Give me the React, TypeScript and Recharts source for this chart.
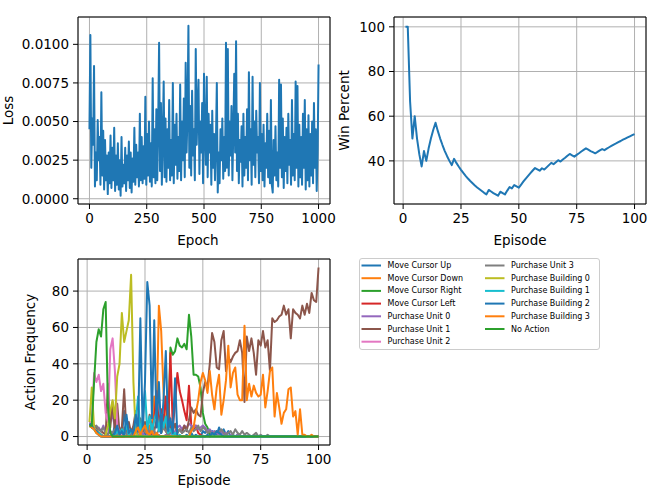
import React from 'react';
import { LineChart, Line, XAxis, YAxis, CartesianGrid, ReferenceArea, Legend } from 'recharts';

const FONT = "'DejaVu Sans', sans-serif";
const FS = 13.5;

// ---- Loss (in units of 1e-4), one reading every 4 epochs, epoch 0..1000 ----
const lossE4 = [
  45, 106, 20, 52, 35, 86, 8, 30, 12, 51,
  25, 40, 9, 69, 15, 44, 6, 38, 12, 28,
  3, 30, 10, 41, 7, 33, 12, 46, 5, 28,
  9, 36, 6, 25, 2, 40, 8, 22, 10, 33,
  5, 28, 12, 37, 7, 30, 4, 26, 11, 46,
  9, 35, 14, 30, 8, 55, 12, 40, 10, 34,
  13, 66, 9, 42, 15, 50, 11, 36, 8, 78,
  14, 45, 10, 58, 12, 48, 101, 18, 62, 9,
  40, 76, 14, 52, 11, 45, 20, 64, 12, 38,
  15, 75, 10, 48, 22, 55, 13, 40, 18, 74,
  12, 50, 25, 65, 14, 88, 30, 55, 112, 20,
  60, 15, 70, 28, 45, 12, 97, 35, 58, 77,
  16, 50, 30, 62, 10, 81, 40, 22, 79, 14,
  55, 30, 48, 9, 57, 20, 42, 12, 36, 75,
  4, 30, 10, 45, 25, 52, 13, 40, 18, 101,
  20, 97, 15, 50, 28, 60, 12, 44, 81, 30,
  102, 18, 55, 10, 38, 24, 47, 8, 55, 15,
  40, 20, 58, 12, 82, 25, 45, 9, 79, 22,
  50, 14, 57, 30, 40, 10, 75, 18, 42, 12,
  48, 8, 36, 20, 55, 14, 44, 10, 64, 9,
  4, 38, 15, 47, 12, 30, 8, 77, 20, 74,
  14, 52, 7, 40, 18, 46, 10, 55, 22, 38,
  9, 64, 15, 42, 12, 76, 20, 73, 8, 48,
  14, 40, 9, 55, 20, 64, 6, 45, 12, 54,
  8, 42, 15, 50, 10, 62, 20, 45, 5, 30,
  87,
];
const lossTicksX = [0, 250, 500, 750, 1000];
const lossTicksY = [0, 0.0025, 0.005, 0.0075, 0.01];

// ---- Win percent, episodes 1..100 ----
const winPercent = [
  100, 100, 66.7, 50, 60, 50, 42.9, 37.5, 44.4, 40,
  45.5, 50, 53.8, 57.1, 53.3, 50, 47.1, 44.4, 42.1, 40,
  38.1, 40.9, 39.1, 37.5, 36, 34.6, 33.3, 32.1, 31, 30,
  29, 28.1, 27.3, 26.5, 25.7, 25, 27, 26.3, 25.6, 25,
  24.4, 26.2, 25.6, 25, 26.7, 28.3, 27.7, 29.2, 28.6, 28,
  29.4, 30.8, 32.1, 33.3, 34.5, 35.7, 36.8, 36.2, 35.6, 36.7,
  36.1, 37.1, 38.1, 39.1, 38.5, 39.4, 40.3, 39.7, 40.6, 41.4,
  42.3, 43.1, 42.5, 41.9, 42.7, 43.4, 44.2, 44.9, 45.6, 45,
  44.4, 43.9, 43.4, 44, 44.7, 45.3, 44.8, 45.5, 46.1, 46.7,
  47.3, 47.8, 48.4, 48.9, 49.5, 50, 50.5, 51, 51.5, 52,
];
const episodeTicks = [0, 25, 50, 75, 100];
const winTicksY = [40, 60, 80, 100];

// ---- Action frequency, episodes 1..100 ----
const actionNames = [
  'Move Cursor Up', 'Move Cursor Down', 'Move Cursor Right', 'Move Cursor Left',
  'Purchase Unit 0', 'Purchase Unit 1', 'Purchase Unit 2', 'Purchase Unit 3',
  'Purchase Building 0', 'Purchase Building 1', 'Purchase Building 2', 'Purchase Building 3',
  'No Action',
];
const actionColors = [
  '#1f77b4', '#ff7f0e', '#2ca02c', '#d62728', '#9467bd', '#8c564b', '#e377c2',
  '#7f7f7f', '#bcbd22', '#17becf', '#1f77b4', '#ff7f0e', '#2ca02c',
];

const moveCursorUp = [
  6, 7, 6, 4, 2, 1, 0, 0, 0, 0,
  0, 7, 2, 5, 0, 14, 3, 0, 1, 0,
  3, 0, 1, 0, 2, 0, 0, 1, 0, 0,
  0, 0, 0, 0, 0, 0, 0, 0, 0, 0,
  0, 0, 1, 0, 2, 0, 1, 0, 0, 3,
  2, 4, 1, 3, 2, 1, 5, 2, 4, 1,
  3, 0, 1, 0, 1, 0, 0, 0, 0, 0,
  0, 0, 0, 0, 0, 0, 0, 0, 0, 0,
  0, 0, 0, 0, 0, 0, 0, 0, 0, 0,
  0, 0, 0, 0, 0, 0, 0, 0, 0, 0,
];
const moveCursorDown = [
  7, 6, 5, 4, 2, 1, 0, 0, 0, 0,
  0, 0, 0, 0, 0, 0, 0, 0, 0, 0,
  5, 3, 7, 2, 4, 1, 6, 3, 22, 10,
  72, 58, 25, 3, 1, 0, 0, 0, 0, 0,
  0, 0, 0, 0, 0, 0, 0, 0, 0, 0,
  0, 0, 0, 0, 0, 0, 0, 0, 0, 0,
  0, 0, 0, 0, 0, 0, 0, 0, 0, 0,
  0, 0, 0, 0, 0, 0, 0, 0, 0, 0,
  0, 0, 0, 0, 0, 0, 0, 0, 0, 0,
  0, 0, 0, 0, 0, 0, 0, 0, 0, 0,
];
const moveCursorRight = [
  6, 5, 4, 2, 1, 0, 0, 0, 0, 0,
  0, 0, 0, 0, 0, 0, 0, 0, 0, 0,
  0, 0, 0, 0, 0, 0, 0, 0, 0, 0,
  0, 0, 0, 0, 3, 49, 45, 47, 54, 50,
  49, 51, 48, 67, 55, 34, 34, 33, 27, 13,
  7, 5, 1, 0, 0, 0, 0, 0, 0, 0,
  0, 0, 0, 0, 0, 0, 0, 0, 0, 0,
  0, 0, 0, 0, 0, 0, 0, 0, 0, 0,
  0, 0, 0, 0, 0, 0, 0, 0, 0, 0,
  0, 0, 0, 0, 0, 0, 0, 0, 0, 0,
];
const moveCursorLeft = [
  6, 5, 5, 3, 2, 1, 0, 0, 0, 0,
  0, 0, 0, 0, 0, 0, 0, 0, 0, 0,
  0, 0, 0, 0, 0, 0, 0, 3, 10, 25,
  6, 15, 8, 22, 3, 46, 5, 18, 35, 25,
  20, 14, 9, 28, 6, 4, 6, 2, 1, 0,
  0, 0, 0, 0, 0, 0, 0, 0, 0, 0,
  0, 0, 0, 0, 0, 0, 0, 0, 0, 0,
  0, 0, 0, 0, 0, 0, 0, 0, 0, 0,
  0, 0, 0, 0, 0, 0, 0, 0, 0, 0,
  0, 0, 0, 0, 0, 0, 0, 0, 0, 0,
];
const purchaseUnit0 = [
  8, 7, 5, 4, 5, 3, 6, 2, 1, 8,
  12, 5, 1, 0, 1, 0, 0, 0, 1, 0,
  0, 1, 0, 2, 0, 1, 0, 0, 2, 0,
  1, 0, 0, 1, 0, 2, 1, 3, 5, 6,
  4, 6, 5, 7, 6, 5, 6, 4, 5, 6,
  5, 3, 4, 2, 3, 2, 1, 3, 1, 2,
  0, 1, 0, 0, 1, 0, 0, 0, 0, 0,
  0, 0, 0, 0, 0, 0, 0, 0, 0, 0,
  0, 0, 0, 0, 0, 0, 0, 0, 0, 0,
  0, 0, 0, 0, 0, 0, 0, 0, 0, 0,
];
const purchaseUnit1 = [
  6, 5, 6, 5, 4, 3, 2, 1, 29, 5,
  19, 3, 18, 2, 5, 26, 3, 8, 2, 6,
  14, 4, 10, 3, 8, 2, 12, 5, 3, 9,
  4, 2, 6, 3, 18, 5, 3, 7, 2, 4,
  2, 6, 3, 9, 16, 13, 15, 12, 11, 24,
  30, 27, 40, 57, 52, 38, 37, 53, 58, 36,
  44, 41, 44, 46, 47, 53, 46, 19, 55, 47,
  54, 46, 34, 53, 50, 58, 49, 53, 36, 65,
  63, 64, 66, 67, 72, 67, 70, 54, 70, 68,
  67, 65, 72, 67, 73, 68, 79, 75, 74, 93,
];
const purchaseUnit2 = [
  7, 8, 35, 30, 34, 25, 29, 13, 8, 48,
  54, 36, 6, 2, 1, 0, 0, 0, 0, 0,
  0, 0, 0, 0, 0, 0, 0, 0, 0, 0,
  0, 0, 0, 0, 0, 0, 0, 0, 0, 0,
  0, 0, 0, 0, 0, 0, 0, 0, 0, 0,
  0, 0, 0, 0, 0, 0, 0, 0, 0, 0,
  0, 0, 0, 0, 0, 0, 0, 0, 0, 0,
  0, 0, 0, 0, 0, 0, 0, 0, 0, 0,
  0, 0, 0, 0, 0, 0, 0, 0, 0, 0,
  0, 0, 0, 0, 0, 0, 0, 0, 0, 0,
];
const purchaseUnit3 = [
  7, 6, 5, 6, 4, 3, 5, 2, 1, 3,
  2, 4, 1, 3, 2, 5, 1, 2, 0, 3,
  6, 2, 4, 8, 3, 5, 2, 7, 3, 1,
  4, 2, 5, 3, 1, 2, 3, 1, 2, 4,
  2, 3, 4, 2, 5, 3, 4, 6, 3, 5,
  4, 2, 3, 1, 2, 3, 2, 4, 2, 1,
  2, 3, 1, 4, 2, 1, 3, 1, 2, 1,
  0, 1, 2, 0, 1, 0, 0, 1, 0, 0,
  0, 0, 0, 0, 0, 0, 0, 0, 0, 0,
  0, 0, 0, 0, 0, 0, 0, 0, 0, 0,
];
const purchaseBuilding0 = [
  8, 27, 5, 3, 2, 1, 0, 1, 6, 14,
  20, 10, 33, 40, 68, 52, 58, 64, 89, 30,
  2, 0, 1, 0, 0, 0, 0, 0, 0, 0,
  0, 0, 0, 0, 0, 0, 0, 0, 0, 0,
  0, 0, 0, 0, 0, 0, 0, 0, 0, 0,
  0, 0, 0, 0, 0, 0, 0, 0, 0, 0,
  0, 0, 0, 0, 0, 0, 0, 0, 0, 0,
  0, 0, 0, 0, 0, 0, 0, 0, 0, 0,
  0, 0, 0, 0, 0, 0, 0, 0, 0, 0,
  0, 0, 0, 0, 0, 0, 0, 0, 0, 0,
];
const purchaseBuilding1 = [
  6, 5, 4, 3, 2, 1, 0, 0, 0, 0,
  0, 1, 3, 1, 4, 2, 6, 1, 3, 2,
  8, 22, 2, 10, 25, 4, 11, 3, 9, 14,
  3, 12, 5, 11, 2, 4, 1, 2, 0, 1,
  0, 0, 0, 0, 0, 0, 0, 0, 0, 0,
  0, 0, 0, 0, 0, 0, 0, 0, 0, 0,
  0, 0, 0, 0, 0, 0, 0, 0, 0, 0,
  0, 0, 0, 0, 0, 0, 0, 0, 0, 0,
  0, 0, 0, 0, 0, 0, 0, 0, 0, 0,
  0, 0, 0, 0, 0, 0, 0, 0, 0, 0,
];
const purchaseBuilding2 = [
  7, 6, 4, 3, 1, 0, 0, 0, 0, 0,
  0, 2, 6, 1, 3, 0, 12, 2, 4, 1,
  12, 3, 65, 3, 30, 85, 72, 10, 64, 5,
  30, 2, 20, 47, 3, 10, 2, 32, 0, 0,
  0, 0, 0, 0, 0, 0, 0, 0, 0, 0,
  0, 1, 0, 2, 1, 3, 2, 1, 0, 0,
  0, 0, 0, 0, 0, 0, 0, 0, 0, 0,
  0, 0, 0, 0, 0, 0, 0, 0, 0, 0,
  0, 0, 0, 0, 0, 0, 0, 0, 0, 0,
  0, 0, 0, 0, 0, 0, 0, 0, 0, 0,
];
const purchaseBuilding3 = [
  6, 5, 4, 2, 1, 0, 0, 0, 0, 0,
  0, 0, 0, 0, 0, 0, 0, 0, 0, 0,
  3, 5, 1, 4, 6, 2, 1, 3, 0, 2,
  0, 0, 0, 0, 0, 0, 0, 0, 0, 0,
  0, 0, 0, 0, 3, 5, 13, 20, 30, 35,
  31, 24, 36, 23, 15, 27, 34, 12, 20, 31,
  50, 27, 35, 38, 23, 20, 20, 61, 20, 29,
  22, 28, 24, 22, 23, 34, 16, 25, 36, 38,
  11, 24, 16, 7, 13, 15, 26, 27, 11, 14,
  1, 15, 1, 1, 0, 0, 1, 0, 0, 0,
];
const noAction = [
  6, 6, 30, 52, 59, 55, 70, 74, 16, 2,
  0, 0, 0, 0, 0, 0, 0, 0, 0, 0,
  0, 0, 0, 0, 0, 0, 0, 0, 0, 0,
  0, 0, 0, 0, 0, 0, 0, 0, 0, 0,
  0, 0, 0, 0, 0, 0, 0, 0, 0, 0,
  0, 0, 0, 0, 0, 0, 0, 0, 0, 0,
  0, 0, 0, 0, 0, 0, 0, 0, 0, 0,
  0, 0, 0, 0, 0, 0, 0, 0, 0, 0,
  0, 0, 0, 0, 0, 0, 0, 0, 0, 0,
  0, 0, 0, 0, 0, 0, 0, 0, 0, 0,
];
const actionSeries = [
  moveCursorUp, moveCursorDown, moveCursorRight, moveCursorLeft,
  purchaseUnit0, purchaseUnit1, purchaseUnit2, purchaseUnit3,
  purchaseBuilding0, purchaseBuilding1, purchaseBuilding2, purchaseBuilding3,
  noAction,
];
const freqTicksY = [0, 20, 40, 60, 80];

// ---- tables built from the arrays ----
const lossData = lossE4.map((v, i) => ({ epoch: i * 4, loss: v / 10000 }));
const winData = winPercent.map((v, i) => ({ episode: i + 1, win: v }));
const actionData = moveCursorUp.map((_, i) => {
  const row: Record<string, number> = { episode: i + 1 };
  actionSeries.forEach((s, k) => { row['a' + k] = s[i]; });
  return row;
});

const tickStyle = { fill: '#000', fontSize: FS, fontFamily: FONT };
const GRID = '#b0b0b0';

const yTitle = (text: string, x: number, cy: number) => () => (
  <text x={x} y={cy} transform={`rotate(-90, ${x}, ${cy})`} textAnchor="middle"
    dominantBaseline="central" fontSize={FS} fontFamily={FONT} fill="#000">{text}</text>
);
const xTitle = (text: string, cx: number, y: number) => () => (
  <text x={cx} y={y} textAnchor="middle" dominantBaseline="central"
    fontSize={FS} fontFamily={FONT} fill="#000">{text}</text>
);

const renderLegend = () => (
  <svg width={244} height={95} style={{ display: 'block', overflow: 'visible' }}>
    <rect x={0.5} y={0.5} width={240} height={91} rx={2.5} fill="#fff" fillOpacity={0.8}
      stroke="#cccccc" strokeWidth={1} />
    {actionNames.map((name, i) => {
      const col = i < 7 ? 0 : 1;
      const row = col ? i - 7 : i;
      const y = 7.5 + row * 12.7;
      const hx = col ? 126 : 2.5;
      return (
        <g key={name}>
          <line x1={hx} x2={hx + 19.5} y1={y} y2={y} stroke={actionColors[i]} strokeWidth={2} />
          <text x={hx + 26} y={y} dominantBaseline="central" fontSize={8} fontFamily={FONT} fill="#000">{name}</text>
        </g>
      );
    })}
  </svg>
);

const LOSS_X = [-50, 1050];
const LOSS_Y = [-0.00034, 0.01177];
const EP_X = [-3.95, 104.95];
const WIN_Y = [20.7, 104.4];
const FREQ_Y = [-4.65, 97.65];

export default function App() {
  return (
    <div style={{ position: 'absolute', left: 0, top: 0, width: 664, height: 497, background: '#fff', fontFamily: FONT }}>
      {/* Loss */}
      <div style={{ position: 'absolute', left: 0, top: 0 }}>
        <LineChart width={340} height={250} data={lossData} margin={{ top: 17, right: 10, bottom: 0, left: 0 }}>
          <CartesianGrid stroke={GRID} strokeWidth={1} />
          <XAxis dataKey="epoch" type="number" domain={LOSS_X} ticks={lossTicksX} height={46}
            tick={tickStyle} tickSize={5} tickMargin={4} axisLine={false} tickLine={{ stroke: '#000' }}
            label={xTitle('Epoch', 198, 240)} />
          <YAxis type="number" domain={LOSS_Y} ticks={lossTicksY} width={78}
            tickFormatter={(v: number) => v.toFixed(4)}
            tick={tickStyle} tickSize={5} tickMargin={4} axisLine={false} tickLine={{ stroke: '#000' }}
            label={yTitle('Loss', 8, 110.5)} />
          <Line dataKey="loss" type="linear" stroke="#1f77b4" strokeWidth={2} dot={false}
            strokeLinejoin="round" isAnimationActive={false} />
          <ReferenceArea x1={LOSS_X[0]} x2={LOSS_X[1]} y1={LOSS_Y[0]} y2={LOSS_Y[1]}
            fill="none" fillOpacity={0} stroke="#000" strokeWidth={1} ifOverflow="visible" />
        </LineChart>
      </div>

      {/* Win percent */}
      <div style={{ position: 'absolute', left: 334, top: 0 }}>
        <LineChart width={330} height={250} data={winData} margin={{ top: 17, right: 18, bottom: 0, left: 0 }}>
          <CartesianGrid stroke={GRID} strokeWidth={1} />
          <XAxis dataKey="episode" type="number" domain={EP_X} ticks={episodeTicks} height={46}
            tick={tickStyle} tickSize={5} tickMargin={4} axisLine={false} tickLine={{ stroke: '#000' }}
            label={xTitle('Episode', 186, 240)} />
          <YAxis type="number" domain={WIN_Y} ticks={winTicksY} width={60}
            tick={tickStyle} tickSize={5} tickMargin={4} axisLine={false} tickLine={{ stroke: '#000' }}
            label={yTitle('Win Percent', 9.5, 110.5)} />
          <Line dataKey="win" type="linear" stroke="#1f77b4" strokeWidth={2} dot={false}
            strokeLinejoin="round" isAnimationActive={false} />
          <ReferenceArea x1={EP_X[0]} x2={EP_X[1]} y1={WIN_Y[0]} y2={WIN_Y[1]}
            fill="none" fillOpacity={0} stroke="#000" strokeWidth={1} ifOverflow="visible" />
        </LineChart>
      </div>

      {/* Action frequency + legend */}
      <div style={{ position: 'absolute', left: 0, top: 250 }}>
        <LineChart width={664} height={247} data={actionData} margin={{ top: 9, right: 334, bottom: 0, left: 0 }}>
          <CartesianGrid stroke={GRID} strokeWidth={1} />
          <XAxis dataKey="episode" type="number" domain={EP_X} ticks={episodeTicks} height={52}
            tick={tickStyle} tickSize={5} tickMargin={4} axisLine={false} tickLine={{ stroke: '#000' }}
            label={xTitle('Episode', 204, 230)} />
          <YAxis type="number" domain={FREQ_Y} ticks={freqTicksY} width={78}
            tick={tickStyle} tickSize={5} tickMargin={4} axisLine={false} tickLine={{ stroke: '#000' }}
            label={yTitle('Action Frequency', 29.5, 102)} />
          {actionNames.map((name, k) => (
            <Line key={name} name={name} dataKey={'a' + k} type="linear" stroke={actionColors[k]}
              strokeWidth={2} dot={false} strokeLinejoin="round" isAnimationActive={false} />
          ))}
          <ReferenceArea x1={EP_X[0]} x2={EP_X[1]} y1={FREQ_Y[0]} y2={FREQ_Y[1]}
            fill="none" fillOpacity={0} stroke="#000" strokeWidth={1} ifOverflow="visible" />
          <Legend content={renderLegend} layout="vertical" align="center" verticalAlign="middle"
            wrapperStyle={{ left: 359, top: 8, width: 244, height: 95 }} />
        </LineChart>
      </div>
    </div>
  );
}
